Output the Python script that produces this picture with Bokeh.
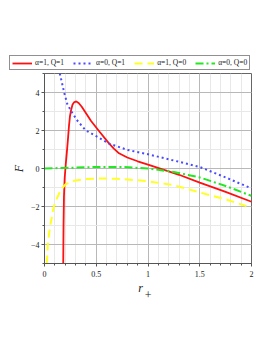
from bokeh.plotting import figure
from bokeh.layouts import column, row
from bokeh.models import Range1d, FixedTicker, Legend, LegendItem
from bokeh.embed import file_html
from bokeh.resources import INLINE

# ---- data ----
red_r = [0.181, 0.184, 0.188, 0.195, 0.205, 0.215, 0.226, 0.236, 0.246, 0.256, 0.27, 0.285,
         0.307, 0.33, 0.36, 0.39, 0.45, 0.53, 0.625, 0.67, 0.72, 0.8, 0.9, 1.0, 1.17, 1.3,
         1.5, 1.75, 2.0]
red_F = [-5.0, -3.0, -1.5, -0.5, 0.2, 0.8, 1.5, 2.2, 2.75, 3.05, 3.35, 3.48,
         3.53, 3.45, 3.25, 3.0, 2.5, 1.95, 1.31, 1.05, 0.8, 0.58, 0.38, 0.2, -0.1, -0.33,
         -0.74, -1.23, -1.75]

blue_r = [0.148, 0.165, 0.19, 0.22, 0.26, 0.32, 0.4, 0.5, 0.625, 0.8, 1.0, 1.25, 1.5, 1.75, 2.0]
blue_F = [5.0, 4.6, 4.0, 3.4, 3.0, 2.5, 2.0, 1.7, 1.31, 0.98, 0.75, 0.42, 0.08, -0.47, -1.05]

yellow_r = [0.022, 0.032, 0.045, 0.058, 0.09, 0.123, 0.16, 0.204, 0.285, 0.4, 0.55, 0.7,
            0.85, 1.0, 1.25, 1.5, 1.75, 2.0]
yellow_F = [-5.0, -4.0, -3.4, -2.93, -2.0, -1.53, -1.1, -0.83, -0.65, -0.55, -0.52, -0.54,
            -0.6, -0.67, -0.88, -1.26, -1.62, -2.07]

green_r = [0.0, 0.25, 0.5, 0.75, 1.0, 1.25, 1.5, 1.75, 2.0]
green_F = [0.0, 0.04, 0.08, 0.08, 0.0, -0.18, -0.47, -0.92, -1.44]

labels = ["α=1, Q=1", "α=0, Q=1", "α=1, Q=0", "α=0, Q=0"]
x_ticks = [0, 0.5, 1, 1.5, 2]
x_minor = [i / 10 for i in range(0, 21)]
y_ticks = [-4, -2, 0, 2, 4]
y_minor = list(range(-5, 6))

SERIF = "Liberation Serif"
colors = ["#ff1010", "#4a4aff", "#ffff20", "#22e822"]
dashes = ["solid", "2 3", "8 5", "8 3 2 3"]
widths = [1.8, 2, 2, 2]
series = [(red_r, red_F), (blue_r, blue_F), (yellow_r, yellow_F), (green_r, green_F)]

# ---- main plot ----
p = figure(width=265, height=273, output_backend="svg", toolbar_location=None,
           x_range=Range1d(0, 2), y_range=Range1d(-5, 5),
           min_border_left=44, min_border_right=14, min_border_top=1, min_border_bottom=82)
p.background_fill_color = "white"
p.border_fill_color = "white"
p.outline_line_color = "#666666"
p.outline_line_width = 1

for ax in (p.xaxis[0], p.yaxis[0]):
    ax.major_label_text_font = SERIF
    ax.major_label_text_font_size = "8px"
    ax.major_label_text_color = "#222222"
    ax.axis_line_color = "#555555"
    ax.major_tick_line_color = "#555555"
    ax.minor_tick_line_color = "#555555"
    ax.major_tick_in = 0
    ax.major_tick_out = 3
    ax.minor_tick_in = 0
    ax.minor_tick_out = 2
    ax.major_label_standoff = 2
    ax.axis_label_text_font = SERIF
    ax.axis_label_text_font_style = "italic"
    ax.axis_label_text_font_size = "12px"
    ax.axis_label_text_color = "#222222"

p.xaxis.ticker = FixedTicker(ticks=x_ticks, minor_ticks=x_minor)
p.yaxis.ticker = FixedTicker(ticks=y_ticks, minor_ticks=y_minor)
p.xaxis.major_label_overrides = {0: "0", 0.5: "0.5", 1: "1", 1.5: "1.5", 2: "2"}
p.xaxis.major_label_standoff = 4
p.yaxis.axis_label = "F"
p.yaxis.axis_label_standoff = 2
p.xaxis.axis_label = "r\u00a0\u00a0\u00a0\u00a0\u00a0\n+"
p.xaxis.axis_label_text_line_height = 0.55
p.xaxis.axis_label_standoff = 1

p.xgrid.grid_line_color = "#b8b8b8"
p.ygrid.grid_line_color = "#b8b8b8"
p.xgrid.minor_grid_line_color = "#e8e8e8"
p.ygrid.minor_grid_line_color = "#e8e8e8"

for (xs, ys), c, d, w in zip(series, colors, dashes, widths):
    p.line(xs, ys, line_color=c, line_width=w, line_dash=d)

# ---- legend strip (separate figure; its lines lie outside its ranges) ----
lg = figure(width=265, height=72, output_backend="svg", toolbar_location=None,
            x_range=Range1d(100, 101), y_range=Range1d(100, 101),
            x_axis_location=None, y_axis_location=None,
            min_border_left=9, min_border_right=0, min_border_top=0, min_border_bottom=2)
lg.outline_line_color = None
lg.xgrid.visible = False
lg.ygrid.visible = False
items = []
for lab, (xs, ys), c, d, w in zip(labels, series, colors, dashes, widths):
    r = lg.line(xs, ys, line_color=c, line_width=w, line_dash=d)
    items.append(LegendItem(label=lab, renderers=[r]))
legend = Legend(items=items, orientation="horizontal", location="bottom_left")
legend.label_text_font = SERIF
legend.label_text_font_size = "7.5px"
legend.label_text_color = "#222222"
legend.glyph_width = 20
legend.glyph_height = 8
legend.label_height = 8
legend.label_width = 20
legend.label_standoff = 3
legend.spacing = 9
legend.padding = 2
legend.margin = 0
legend.border_line_color = "#222222"
legend.border_line_width = 1
legend.background_fill_alpha = 1
lg.add_layout(legend, "center")

layout = column(row(lg), row(p), spacing=0)
open("out.html", "w").write(file_html(layout, INLINE))
